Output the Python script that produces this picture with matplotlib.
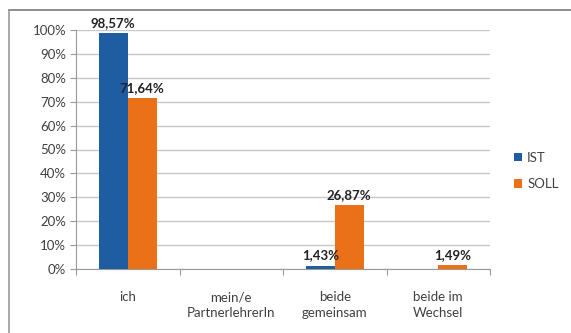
import matplotlib
matplotlib.use("Agg")
import matplotlib.pyplot as plt
import numpy as np
from matplotlib.lines import Line2D

categories = ["ich", "mein/e\nPartnerlehrerIn", "beide\ngemeinsam", "beide im\nWechsel"]
ist = [98.57, 0, 1.43, 0]
soll = [71.64, 0, 26.87, 1.49]
ist_labels = ["98,57%", None, "1,43%", None]
soll_labels = ["71,64%", None, "26,87%", "1,49%"]
yticks = list(range(0, 101, 10))

plt.rcParams['font.family'] = ['Lato', 'DejaVu Sans']

fig = plt.figure(figsize=(5.71, 3.33), dpi=100)
# partial frame: top and left edges only
fig.lines.append(Line2D([9/571, 1.0], [1-10/333, 1-10/333], transform=fig.transFigure,
                        color='#7A7A7A', linewidth=1.2))
fig.lines.append(Line2D([9/571, 9/571], [0, 1-10/333], transform=fig.transFigure,
                        color='#9A9A9A', linewidth=1.2))
ax = fig.add_axes([76/571, 1-269/333, 414/571, 239/333])

x = np.arange(len(categories))
w = 0.28
blue = '#1F5DA3'
orange = '#EB7118'
b1 = ax.bar(x - w/2, ist, w, color=blue, label='IST', zorder=3)
b2 = ax.bar(x + w/2, soll, w, color=orange, label='SOLL', zorder=3)

for bars, labels in ((b1, ist_labels), (b2, soll_labels)):
    for rect, lab in zip(bars, labels):
        if lab:
            ax.annotate(lab, (rect.get_x() + rect.get_width()/2, rect.get_height()),
                        xytext=(0, 3), textcoords='offset points', ha='center', va='bottom',
                        fontsize=9.5, fontweight='bold', color='#222222', zorder=5)

ax.set_xlim(-0.5, 3.5)
ax.set_ylim(0, 100)
ax.set_yticks(yticks)
ax.set_yticklabels([f"{t}%" for t in yticks], fontsize=9.5, color='#404040')
ax.set_xticks([-0.5, 0.5, 1.5, 2.5, 3.5])
ax.set_xticklabels([])
ax.set_xticks(x, minor=True)
ax.set_xticklabels(categories, minor=True, fontsize=9.5, color='#404040', linespacing=1.35)
ax.tick_params(axis='x', which='minor', length=0, pad=16)
ax.tick_params(axis='x', which='major', length=4, color='#999999')
ax.tick_params(axis='y', length=4, color='#999999', pad=3)
ax.grid(axis='y', color='#C8C8C8', linewidth=1, zorder=0)
for s in ['top', 'right']:
    ax.spines[s].set_visible(False)
ax.spines['left'].set_color('#999999')
ax.spines['bottom'].set_color('#999999')

leg = fig.legend(handles=[b1, b2], labels=['IST', 'SOLL'], loc='center left',
                 bbox_to_anchor=(502/571, 1-171/333), frameon=False, fontsize=9.5,
                 handlelength=0.6, handleheight=0.6, handletextpad=0.4, labelspacing=1.1)
for t in leg.get_texts():
    t.set_color('#404040')

fig.savefig("out.png", dpi=100)
